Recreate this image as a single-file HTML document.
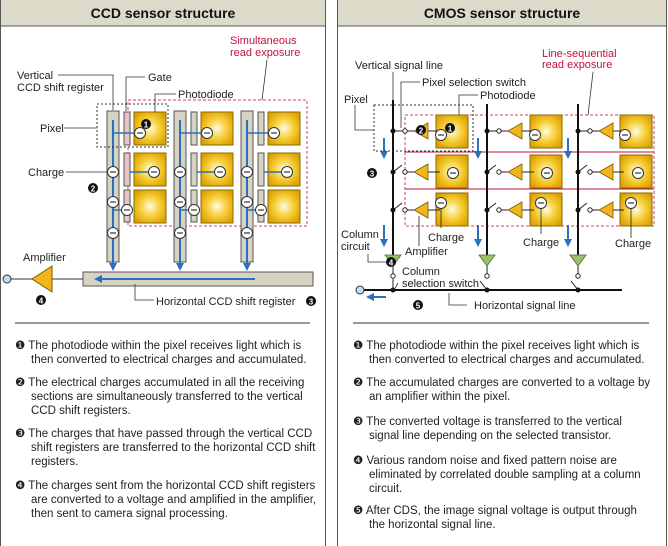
<!DOCTYPE html>
<html><head><meta charset="utf-8"><style>
html,body{margin:0;padding:0;background:#fff;}
svg{display:block;font-family:"Liberation Sans",sans-serif;}
.l{font-size:11px;fill:#222;}
.r{font-size:11px;fill:#c0123a;}
.t{font-size:11.5px;fill:#222;}
</style></head><body>
<svg width="668" height="546" viewBox="0 0 668 546">
<defs>
<radialGradient id="g" cx="50%" cy="50%" r="60%"><stop offset="0" stop-color="#fffbe0"/><stop offset="0.5" stop-color="#f6cf3a"/><stop offset="1" stop-color="#dca000"/></radialGradient>
<marker id="ab" markerUnits="userSpaceOnUse" markerWidth="8" markerHeight="8" refX="4" refY="4" orient="auto"><path d="M0,0L8,4L0,8z" fill="#2a6fc0"/></marker>
<g id="pd"><rect x="0" y="0" width="32" height="33" fill="url(#g)" stroke="#8a6a00" stroke-width="1"/></g>
<g id="ch"><circle r="5.5" fill="#fff" stroke="#333" stroke-width="1"/><line x1="-3" y1="0" x2="3" y2="0" stroke="#333" stroke-width="1.2"/></g>
<g id="amp"><polygon points="0,0 14,-8 14,8" fill="#f2b51c" stroke="#7a5a00" stroke-width="0.8"/></g>
<g id="ga"><polygon points="-8,0 8,0 0,11" fill="#9cc26a" stroke="#4a6a2a" stroke-width="0.8"/></g>
</defs>
<rect x="0.5" y="-1" width="325" height="550" fill="#fff" stroke="#555"/>
<rect x="0.5" y="-1" width="325" height="27" fill="#dcdac8" stroke="#555"/>
<rect x="337.5" y="-1" width="329" height="550" fill="#fff" stroke="#555"/>
<rect x="337.5" y="-1" width="329" height="27" fill="#dcdac8" stroke="#555"/>
<text x="163" y="18" text-anchor="middle" font-weight="bold" font-size="14" fill="#111">CCD sensor structure</text>
<text x="502" y="18" text-anchor="middle" font-weight="bold" font-size="14" fill="#111">CMOS sensor structure</text>

<text class="r" x="230" y="44">Simultaneous</text>
<text class="r" x="230" y="56">read exposure</text>
<line x1="267" y1="60" x2="262" y2="100" stroke="#333" stroke-width="0.8"/>
<rect x="128" y="100" width="179" height="126" fill="none" stroke="#d04060" stroke-dasharray="3,2"/>
<g>
<rect x="107" y="111" width="12" height="151" fill="#d6d3c3" stroke="#555"/>
<rect x="174" y="111" width="12" height="151" fill="#d6d3c3" stroke="#555"/>
<rect x="241" y="111" width="12" height="151" fill="#d6d3c3" stroke="#555"/>
<rect x="124" y="112" width="6" height="33" fill="#e8c4c4" stroke="#555"/>
<rect x="124" y="153" width="6" height="33" fill="#e8c4c4" stroke="#555"/>
<rect x="124" y="190" width="6" height="32" fill="#e8c4c4" stroke="#555"/>
<rect x="191" y="112" width="6" height="33" fill="#d6d3c3" stroke="#555"/>
<rect x="191" y="153" width="6" height="33" fill="#d6d3c3" stroke="#555"/>
<rect x="191" y="190" width="6" height="32" fill="#d6d3c3" stroke="#555"/>
<rect x="258" y="112" width="6" height="33" fill="#d6d3c3" stroke="#555"/>
<rect x="258" y="153" width="6" height="33" fill="#d6d3c3" stroke="#555"/>
<rect x="258" y="190" width="6" height="32" fill="#d6d3c3" stroke="#555"/>
<use href="#pd" x="134" y="112"/><use href="#pd" x="134" y="153"/><use href="#pd" x="134" y="190"/>
<use href="#pd" x="201" y="112"/><use href="#pd" x="201" y="153"/><use href="#pd" x="201" y="190"/>
<use href="#pd" x="268" y="112"/><use href="#pd" x="268" y="153"/><use href="#pd" x="268" y="190"/>
</g>
<g stroke="#2a6fc0" stroke-width="2" fill="none">
<line x1="113" y1="120" x2="113" y2="267" marker-end="url(#ab)"/>
<line x1="180" y1="120" x2="180" y2="267" marker-end="url(#ab)"/>
<line x1="247" y1="120" x2="247" y2="267" marker-end="url(#ab)"/>
<line x1="114" y1="133" x2="138" y2="133" stroke-width="1.5"/>
<line x1="181" y1="133" x2="205" y2="133" stroke-width="1.5"/>
<line x1="248" y1="133" x2="272" y2="133" stroke-width="1.5"/>
<line x1="130" y1="172" x2="154" y2="172" stroke-width="1.5"/>
<line x1="197" y1="172" x2="220" y2="172" stroke-width="1.5"/>
<line x1="264" y1="172" x2="287" y2="172" stroke-width="1.5"/>
<line x1="114" y1="210" x2="127" y2="210" stroke-width="1.5"/>
<line x1="181" y1="210" x2="194" y2="210" stroke-width="1.5"/>
<line x1="248" y1="210" x2="261" y2="210" stroke-width="1.5"/>
</g>
<use href="#ch" x="140" y="133"/><use href="#ch" x="207" y="133"/><use href="#ch" x="274" y="133"/>
<use href="#ch" x="113" y="172"/><use href="#ch" x="154" y="172"/><use href="#ch" x="180" y="172"/><use href="#ch" x="220" y="172"/><use href="#ch" x="247" y="172"/><use href="#ch" x="287" y="172"/>
<use href="#ch" x="113" y="202"/><use href="#ch" x="127" y="210"/><use href="#ch" x="180" y="202"/><use href="#ch" x="194" y="210"/><use href="#ch" x="247" y="202"/><use href="#ch" x="261" y="210"/>
<use href="#ch" x="113" y="233"/><use href="#ch" x="180" y="233"/><use href="#ch" x="247" y="233"/>
<circle cx="146" cy="124" r="5" fill="#111"/><text x="146" y="127.5" text-anchor="middle" font-size="8" font-weight="bold" fill="#fff">1</text>
<rect x="97" y="104" width="71" height="43" fill="none" stroke="#333" stroke-dasharray="2,2"/>
<rect x="83" y="272" width="230" height="14" fill="#d6d3c3" stroke="#555"/>
<line x1="255" y1="279" x2="98" y2="279" stroke="#2a6fc0" stroke-width="2" marker-end="url(#ab)"/>
<line x1="11" y1="279" x2="83" y2="279" stroke="#333"/>
<circle cx="7" cy="279" r="4" fill="#bfe0f0" stroke="#333"/>
<polygon points="32,279 52,266 52,292" fill="#f2b51c" stroke="#7a5a00"/>
<g stroke="#333" stroke-width="0.8" fill="none">
<polyline points="58,75 113,75 113,110"/>
<polyline points="145,77 126,77 126,111"/>
<polyline points="176,94 155,94 155,112"/>
<polyline points="64,128 97,128"/>
<polyline points="66,172 107,172"/>
<polyline points="135,284 135,300 154,300"/>
</g>
<text class="l" x="17" y="79">Vertical</text>
<text class="l" x="17" y="91">CCD shift register</text>
<text class="l" x="148" y="81">Gate</text>
<text class="l" x="178" y="98">Photodiode</text>
<text class="l" x="40" y="132">Pixel</text>
<text class="l" x="28" y="176">Charge</text>
<circle cx="93" cy="188" r="5" fill="#111"/><text x="93" y="191.5" text-anchor="middle" font-size="8" font-weight="bold" fill="#fff">2</text>
<text class="l" x="23" y="261">Amplifier</text>
<circle cx="41" cy="300" r="5" fill="#111"/><text x="41" y="303.5" text-anchor="middle" font-size="8" font-weight="bold" fill="#fff">4</text>
<text class="l" x="156" y="305">Horizontal CCD shift register</text>
<circle cx="311" cy="301" r="5" fill="#111"/><text x="311" y="304.5" text-anchor="middle" font-size="8" font-weight="bold" fill="#fff">3</text>

<text class="r" x="542" y="57">Line-sequential</text>
<text class="r" x="542" y="68">read exposure</text>
<line x1="593" y1="72" x2="588" y2="115" stroke="#333" stroke-width="0.8"/>
<rect x="405" y="115" width="249" height="111" fill="none" stroke="#d04060" stroke-dasharray="3,2"/>
<line x1="405" y1="152" x2="654" y2="152" stroke="#c0123a"/>
<line x1="405" y1="189" x2="654" y2="189" stroke="#c0123a"/>
<g stroke="#111" stroke-width="2">
<line x1="393" y1="100" x2="393" y2="256"/>
<line x1="487" y1="104" x2="487" y2="256"/>
<line x1="578" y1="104" x2="578" y2="256"/>
<line x1="362" y1="290" x2="622" y2="290"/>
</g>
<g>
<use href="#pd" x="436" y="115"/><use href="#pd" x="436" y="155"/><use href="#pd" x="436" y="193"/>
<use href="#pd" x="530" y="115"/><use href="#pd" x="530" y="155"/><use href="#pd" x="530" y="193"/>
<use href="#pd" x="620" y="115"/><use href="#pd" x="620" y="155"/><use href="#pd" x="620" y="193"/>
</g>
<g stroke="#222" stroke-width="1" fill="#fff">
<line x1="393" y1="131" x2="403" y2="131"/><line x1="407" y1="131" x2="414" y2="131"/><line x1="428" y1="131" x2="440" y2="131"/>
<line x1="487" y1="131" x2="497" y2="131"/><line x1="501" y1="131" x2="508" y2="131"/><line x1="522" y1="131" x2="534" y2="131"/>
<line x1="578" y1="131" x2="588" y2="131"/><line x1="592" y1="131" x2="599" y2="131"/><line x1="613" y1="131" x2="624" y2="131"/>
<line x1="393" y1="172" x2="402" y2="165"/><line x1="407" y1="172" x2="414" y2="172"/><line x1="428" y1="172" x2="440" y2="172"/>
<line x1="487" y1="172" x2="496" y2="165"/><line x1="501" y1="172" x2="508" y2="172"/><line x1="522" y1="172" x2="534" y2="172"/>
<line x1="578" y1="172" x2="587" y2="165"/><line x1="592" y1="172" x2="599" y2="172"/><line x1="613" y1="172" x2="624" y2="172"/>
<line x1="393" y1="210" x2="402" y2="203"/><line x1="407" y1="210" x2="414" y2="210"/><line x1="428" y1="210" x2="440" y2="210"/>
<line x1="487" y1="210" x2="496" y2="203"/><line x1="501" y1="210" x2="508" y2="210"/><line x1="522" y1="210" x2="534" y2="210"/>
<line x1="578" y1="210" x2="587" y2="203"/><line x1="592" y1="210" x2="599" y2="210"/><line x1="613" y1="210" x2="624" y2="210"/>
<circle cx="405" cy="131" r="2.2"/><circle cx="499" cy="131" r="2.2"/><circle cx="590" cy="131" r="2.2"/>
<circle cx="405" cy="172" r="2.2"/><circle cx="499" cy="172" r="2.2"/><circle cx="590" cy="172" r="2.2"/>
<circle cx="405" cy="210" r="2.2"/><circle cx="499" cy="210" r="2.2"/><circle cx="590" cy="210" r="2.2"/>
</g>
<g fill="#111">
<circle cx="393" cy="131" r="2.5"/><circle cx="487" cy="131" r="2.5"/><circle cx="578" cy="131" r="2.5"/>
<circle cx="393" cy="172" r="2.5"/><circle cx="487" cy="172" r="2.5"/><circle cx="578" cy="172" r="2.5"/>
<circle cx="393" cy="210" r="2.5"/><circle cx="487" cy="210" r="2.5"/><circle cx="578" cy="210" r="2.5"/>
<circle cx="393" cy="290" r="2.5"/><circle cx="487" cy="290" r="2.5"/><circle cx="578" cy="290" r="2.5"/>
</g>
<use href="#amp" x="414" y="131"/><use href="#amp" x="508" y="131"/><use href="#amp" x="599" y="131"/>
<use href="#amp" x="414" y="172"/><use href="#amp" x="508" y="172"/><use href="#amp" x="599" y="172"/>
<use href="#amp" x="414" y="210"/><use href="#amp" x="508" y="210"/><use href="#amp" x="599" y="210"/>
<use href="#ch" x="441" y="135"/><use href="#ch" x="535" y="135"/><use href="#ch" x="625" y="135"/>
<use href="#ch" x="453" y="173"/><use href="#ch" x="547" y="173"/><use href="#ch" x="638" y="173"/>
<use href="#ch" x="441" y="203"/><use href="#ch" x="541" y="203"/><use href="#ch" x="631" y="203"/>
<g stroke="#222" stroke-width="0.8" fill="none">
<line x1="441" y1="208" x2="441" y2="228"/><line x1="541" y1="208" x2="541" y2="234"/><line x1="631" y1="208" x2="631" y2="238"/>
<line x1="419" y1="216" x2="419" y2="246"/>
</g>
<use href="#ga" x="393" y="255"/><use href="#ga" x="487" y="255"/><use href="#ga" x="578" y="255"/>
<g stroke="#222" stroke-width="1" fill="#fff">
<line x1="393" y1="266" x2="393" y2="274"/><circle cx="393" cy="276" r="2.2"/><line x1="393" y1="279" x2="393" y2="290"/>
<line x1="487" y1="266" x2="487" y2="274"/><circle cx="487" cy="276" r="2.2"/><line x1="487" y1="290" x2="480" y2="281"/>
<line x1="578" y1="266" x2="578" y2="274"/><circle cx="578" cy="276" r="2.2"/><line x1="578" y1="290" x2="571" y2="281"/>
</g>
<circle cx="360" cy="290" r="4" fill="#bfe0f0" stroke="#333"/>
<g stroke="#2a6fc0" stroke-width="2">
<line x1="384" y1="138" x2="384" y2="155" marker-end="url(#ab)"/>
<line x1="478" y1="138" x2="478" y2="155" marker-end="url(#ab)"/>
<line x1="568" y1="138" x2="568" y2="155" marker-end="url(#ab)"/>
<line x1="384" y1="225" x2="384" y2="243" marker-end="url(#ab)"/>
<line x1="478" y1="225" x2="478" y2="243" marker-end="url(#ab)"/>
<line x1="568" y1="225" x2="568" y2="243" marker-end="url(#ab)"/>
<line x1="386" y1="297" x2="370" y2="297" marker-end="url(#ab)"/>
</g>
<rect x="374" y="105" width="99" height="46" fill="none" stroke="#333" stroke-dasharray="2,2"/>
<g stroke="#333" stroke-width="0.8" fill="none">
<line x1="393" y1="72" x2="393" y2="100"/>
<polyline points="420,82 401,82 401,128"/>
<polyline points="478,95 459,95 459,115"/>
<polyline points="355,105 355,130 374,130"/>
<polyline points="368,254 368,262 386,262"/>
<polyline points="449,293 449,305 467,305"/>
<polyline points="394,290 398,283"/>
</g>
<text class="l" x="355" y="69">Vertical signal line</text>
<text class="l" x="422" y="86">Pixel selection switch</text>
<text class="l" x="480" y="99">Photodiode</text>
<text class="l" x="344" y="103">Pixel</text>
<circle cx="421" cy="130" r="5" fill="#111"/><text x="421" y="133.5" text-anchor="middle" font-size="8" font-weight="bold" fill="#fff">2</text>
<circle cx="450" cy="128" r="5" fill="#111"/><text x="450" y="131.5" text-anchor="middle" font-size="8" font-weight="bold" fill="#fff">1</text>
<circle cx="372" cy="173" r="5" fill="#111"/><text x="372" y="176.5" text-anchor="middle" font-size="8" font-weight="bold" fill="#fff">3</text>
<text class="l" x="341" y="238">Column</text>
<text class="l" x="341" y="250">circuit</text>
<text class="l" x="428" y="241">Charge</text>
<text class="l" x="523" y="246">Charge</text>
<text class="l" x="615" y="247">Charge</text>
<text class="l" x="405" y="255">Amplifier</text>
<circle cx="391" cy="262" r="5" fill="#111"/><text x="391" y="265.5" text-anchor="middle" font-size="8" font-weight="bold" fill="#fff">4</text>
<text class="l" x="402" y="275">Column</text>
<text class="l" x="402" y="287">selection switch</text>
<circle cx="418" cy="305" r="5" fill="#111"/><text x="418" y="308.5" text-anchor="middle" font-size="8" font-weight="bold" fill="#fff">5</text>
<text class="l" x="474" y="309">Horizontal signal line</text>

<line x1="15" y1="323" x2="310" y2="323" stroke="#333"/>
<line x1="353" y1="323" x2="649" y2="323" stroke="#333"/>

<g class="t">
<text x="15" y="349">❶ The photodiode within the pixel receives light which is</text>
<text x="31" y="363">then converted to electrical charges and accumulated.</text>
<text x="15" y="386">❷ The electrical charges accumulated in all the receiving</text>
<text x="31" y="400">sections are simultaneously transferred to the vertical</text>
<text x="31" y="414">CCD shift registers.</text>
<text x="15" y="437">❸ The charges that have passed through the vertical CCD</text>
<text x="31" y="451">shift registers are transferred to the horizontal CCD shift</text>
<text x="31" y="465">registers.</text>
<text x="15" y="489">❹ The charges sent from the horizontal CCD shift registers</text>
<text x="31" y="503">are converted to a voltage and amplified in the amplifier,</text>
<text x="31" y="517">then sent to camera signal processing.</text>
</g>
<g class="t">
<text x="353" y="349">❶ The photodiode within the pixel receives light which is</text>
<text x="369" y="363">then converted to electrical charges and accumulated.</text>
<text x="353" y="386">❷ The accumulated charges are converted to a voltage by</text>
<text x="369" y="400">an amplifier within the pixel.</text>
<text x="353" y="425">❸ The converted voltage is transferred to the vertical</text>
<text x="369" y="439">signal line depending on the selected transistor.</text>
<text x="353" y="464">❹ Various random noise and fixed pattern noise are</text>
<text x="369" y="478">eliminated by correlated double sampling at a column</text>
<text x="369" y="492">circuit.</text>
<text x="353" y="514">❺ After CDS, the image signal voltage is output through</text>
<text x="369" y="528">the horizontal signal line.</text>
</g>
</svg>
</body></html>
